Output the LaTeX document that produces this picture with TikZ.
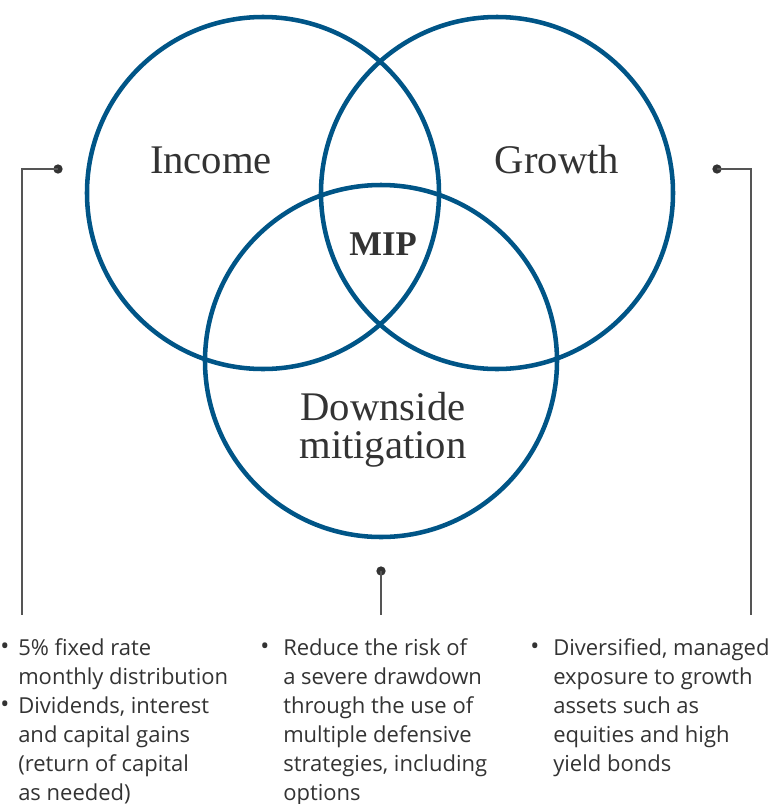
\documentclass[tikz,border=0pt]{standalone}
\usepackage{fontspec}
\setmainfont{Liberation Serif}
\newfontfamily\bodyfont[Ligatures=NoCommon]{Open Sans}
\definecolor{mipblue}{HTML}{005587}
\definecolor{inkgray}{HTML}{333333}
\definecolor{rulegray}{HTML}{555555}
\newcommand{\blt}{\raisebox{0.05ex}{\fontsize{18}{18}\selectfont\textbullet}}
\tikzset{
  ring/.style={circle, draw=mipblue, line width=3.4pt, minimum size=264pt, inner sep=0pt},
  label/.style={font=\fontsize{30.5}{32}\selectfont, text=inkgray, anchor=base, inner sep=0pt},
  body/.style={font=\bodyfont\fontsize{16.5}{21.75}\selectfont, text=inkgray, anchor=base west, inner sep=0pt},
  dot/.style={circle, fill=inkgray, minimum size=7pt, inner sep=0pt},
  leader/.style={draw=rulegray, line width=0.9pt}
}
\begin{document}
\begin{tikzpicture}[x=0.75pt,y=-0.75pt]
\useasboundingbox (0,0) rectangle (781,804);
% circles
\node[ring] (inc) at (263,193) {};
\node[ring] (gro) at (497,193) {};
\node[ring] (dwn) at (381,361) {};
\node[label] (tinc) at (211,173) {Income};
\node[label] (tgro) at (557,173) {Growth};
\node[label, font=\bfseries\fontsize{26}{28}\selectfont] (tmip) at (383,255) {MIP};
\node[label] (tdwn) at (383,420) {Downside};
\node[label] (tmit) at (383,458) {mitigation};
% leaders
\node[dot] (dl) at (58,169) {};
\node[dot] (dr) at (717,169) {};
\node[dot] (db) at (381,571) {};
\coordinate (cl) at (22,169);
\coordinate (cr) at (751,169);
\coordinate (el) at (22,615);
\coordinate (er) at (751,615);
\coordinate (eb) at (381,615);
\draw[leader] (dl.center) -- (cl) -- (el);
\draw[leader] (dr.center) -- (cr) -- (er);
\draw[leader] (db.center) -- (eb);
% texts
\foreach \t [count=\i from 0] in {5\% fixed rate, monthly distribution, {Dividends, interest}, and capital gains, {(return of capital}, {as needed)}}
\node[body] (l\i) at (18,655+29*\i) {\t};
\foreach \t [count=\i from 0] in {Reduce the risk of, a severe drawdown, through the use of, multiple defensive, {strategies, including}, options}
\node[body] (m\i) at (283,655+29*\i) {\t};
\foreach \t [count=\i from 0] in {{Diversified, managed}, exposure to growth, assets such as, equities and high, yield bonds}
\node[body] (r\i) at (553,655+29*\i) {\t};
\node[body] (bl0) at (0,655) {\blt};
\node[body] (bl2) at (0,713) {\blt};
\node[body] (bm0) at (260,655) {\blt};
\node[body] (br0) at (530,655) {\blt};
\end{tikzpicture}
\end{document}
